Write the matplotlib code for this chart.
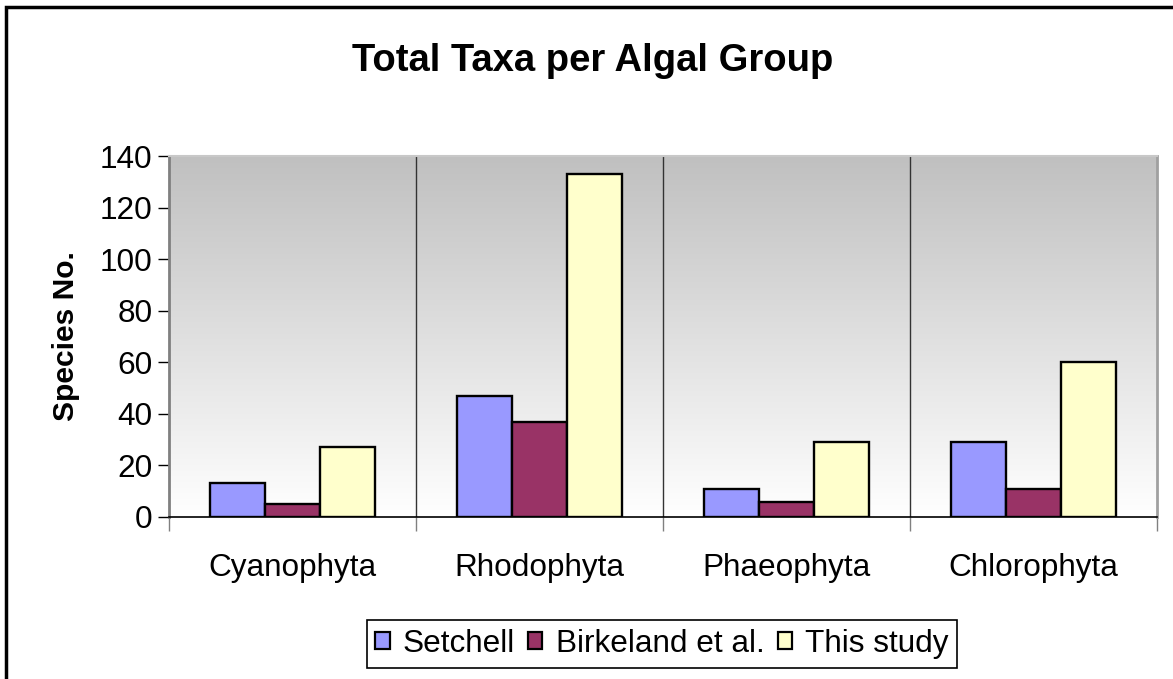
import numpy as np
import matplotlib
matplotlib.use('Agg')
from matplotlib import pyplot as plt
from matplotlib.colors import LinearSegmentedColormap
from matplotlib.patches import Rectangle

# data
groups = ['Cyanophyta', 'Rhodophyta', 'Phaeophyta', 'Chlorophyta']
series = ['Setchell', 'Birkeland et al.', 'This study']
setchell = [13, 47, 11, 29]
birkeland = [5, 37, 6, 11]
this_study = [27, 133, 29, 60]
colors = ['#9999FF', '#993366', '#FFFFCC']

plt.rcParams['font.family'] = ['Liberation Sans', 'DejaVu Sans']

fig = plt.figure(figsize=(11.73, 6.79), dpi=100)
ax = fig.add_axes([169 / 1173, 1 - 517 / 679, (1157 - 169) / 1173, (517 - 156) / 679])

# gradient background (grey at top, white at bottom)
cmap = LinearSegmentedColormap.from_list('bg', ['#FFFFFF', '#C0C0C0'])
grad = np.linspace(0, 1, 256).reshape(-1, 1)
ax.imshow(grad, cmap=cmap, aspect='auto', origin='lower',
          extent=(-0.5, len(groups) - 0.5, 0, 140), zorder=0)

x = np.arange(len(groups))
w = 0.2215
for i, (vals, name) in enumerate(zip([setchell, birkeland, this_study], series)):
    ax.bar(x + (i - 1) * w, vals, w, color=colors[i], edgecolor='black',
           linewidth=1.7, label=name, zorder=3)

ax.set_xlim(-0.5, len(groups) - 0.5)
ax.set_ylim(0, 140)

# category separators
for b in x[1:] - 0.5:
    ax.axvline(b, color='#333333', lw=1, zorder=2)

ax.set_yticks(range(0, 141, 20))
ax.tick_params(axis='y', labelsize=22.7, length=8, width=1, pad=4, direction='out')
ax.set_xticks(x)
ax.set_xticklabels(groups)
ax.set_xticks(np.arange(-0.5, len(groups), 1), minor=True)
ax.tick_params(axis='x', which='major', length=0, labelsize=22.7, pad=26)
ax.tick_params(axis='x', which='minor', length=10, width=1, color='#808080')

ax.spines['left'].set_color('#808080')
ax.spines['left'].set_linewidth(2)
ax.spines['right'].set_color('#A0A0A0')
ax.spines['right'].set_linewidth(2)
ax.spines['top'].set_color('#C8C8C8')
ax.spines['top'].set_linewidth(1.5)
ax.spines['bottom'].set_color('black')
ax.spines['bottom'].set_linewidth(1.2)
ax.spines['bottom'].set_zorder(4)

ax.set_ylabel('Species No.', fontsize=21.6, fontweight='bold', labelpad=14)

fig.text(593 / 1173, 1 - 61 / 679, 'Total Taxa per Algal Group', fontsize=27.5,
         fontweight='bold', ha='center', va='center')

leg = fig.legend(loc='center', bbox_to_anchor=(662 / 1173, 1 - 644 / 679), ncol=3,
                 fontsize=22.7, frameon=True, fancybox=False, framealpha=1,
                 edgecolor='black', handlelength=0.45, handleheight=0.45,
                 handletextpad=0.42, columnspacing=0.42, borderpad=0.28,
                 borderaxespad=0)
leg.get_frame().set_linewidth(1.2)
for h in leg.legend_handles:
    h.set_linewidth(1.6)

# outer chart frame (runs off the right and bottom edges)
fig.patches.append(Rectangle((6 / 1173, -0.05), 1.1, 1 - 7 / 679 + 0.05,
                             transform=fig.transFigure, fill=False,
                             edgecolor='black', linewidth=2.5))

fig.savefig('out.png', dpi=100)
